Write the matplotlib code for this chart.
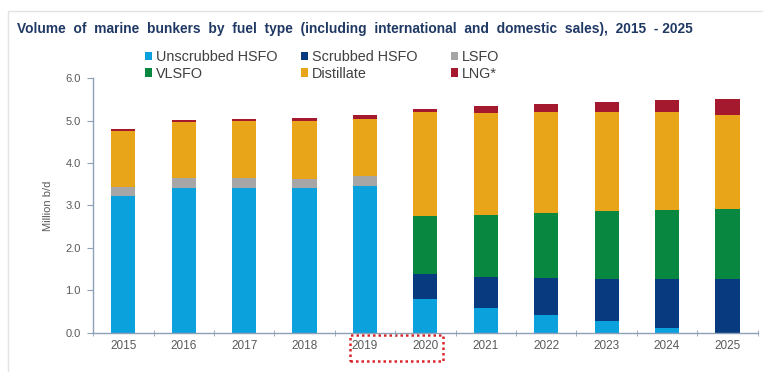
import matplotlib
matplotlib.use('Agg')
import matplotlib.pyplot as plt
import numpy as np
from matplotlib.patches import Rectangle

years = ['2015', '2016', '2017', '2018', '2019', '2020', '2021', '2022', '2023', '2024', '2025']

# million b/d
unscrubbed_hsfo = [3.21, 3.40, 3.42, 3.40, 3.46, 0.79, 0.59, 0.42, 0.27, 0.10, 0.00]
scrubbed_hsfo = [0.00, 0.00, 0.00, 0.00, 0.00, 0.58, 0.72, 0.86, 0.99, 1.16, 1.26]
lsfo = [0.23, 0.25, 0.23, 0.23, 0.23, 0.00, 0.00, 0.00, 0.00, 0.00, 0.00]
vlsfo = [0.00, 0.00, 0.00, 0.00, 0.00, 1.39, 1.47, 1.54, 1.60, 1.64, 1.66]
distillate = [1.32, 1.31, 1.34, 1.36, 1.35, 2.43, 2.39, 2.38, 2.34, 2.30, 2.21]
lng = [0.05, 0.05, 0.04, 0.07, 0.09, 0.09, 0.18, 0.20, 0.24, 0.28, 0.37]

names = ['Unscrubbed HSFO', 'Scrubbed HSFO', 'LSFO', 'VLSFO', 'Distillate', 'LNG*']
colors = ['#0BA1DD', '#073A7E', '#A6A6A6', '#07873F', '#E8A519', '#A5192F']

plt.rcParams['font.family'] = ['Liberation Sans', 'DejaVu Sans']

axis_col = '#8EA0B8'
text_col = '#595959'

fig = plt.figure(figsize=(7.63, 3.72), dpi=100)
ax = fig.add_axes([0.122, 0.106, 0.871, 0.684])

x = np.arange(len(years))
bottom = np.zeros(len(years))
series = [unscrubbed_hsfo, scrubbed_hsfo, lsfo, vlsfo, distillate, lng]
handles = []
for vals, name, col in zip(series, names, colors):
    b = ax.bar(x, vals, 0.4, bottom=bottom, color=col, label=name)
    handles.append(b)
    bottom = bottom + np.array(vals)

ax.set_xlim(-0.5, len(years) - 0.5)
ax.set_ylim(0, 6)
ax.set_yticks(np.arange(0, 6.1, 1.0))
ax.set_yticklabels(['%.1f' % v for v in np.arange(0, 6.1, 1.0)], fontsize=8, color=text_col)
ax.set_xticks(x)
ax.set_xticklabels(years, fontsize=8.5, color=text_col)
ax.set_xticks(np.arange(-0.5, len(years), 1.0), minor=True)
ax.tick_params(axis='x', which='major', length=0, pad=5)
ax.tick_params(axis='x', which='minor', length=4, direction='inout', color=axis_col)
ax.tick_params(axis='y', length=4, direction='out', color=axis_col, pad=5)
for s in ['top', 'right']:
    ax.spines[s].set_visible(False)
for s in ['left', 'bottom']:
    ax.spines[s].set_color(axis_col)
    ax.spines[s].set_linewidth(1.0)
ax.set_ylabel('Million b/d', fontsize=8, color=text_col, labelpad=9)

# red dotted box around 2019-2020
box = Rectangle((3.75, -0.112), 1.54, 0.103, transform=ax.get_xaxis_transform(),
                fill=False, edgecolor='#D9262A', linestyle=(0, (1, 1.2)), linewidth=1.8,
                clip_on=False)
ax.add_patch(box)

fig.text(0.022, 0.922, 'Volume  of  marine  bunkers  by  fuel  type  (including  international  and  domestic  sales),  2015  - 2025',
         fontsize=9.9, fontweight='bold', color='#1F3864', ha='left', va='center')

# legend: three columns of two rows, placed one by one
col_x = [145 / 763, 301 / 763, 451 / 763]
for i, cx in enumerate(col_x):
    leg = fig.legend(handles=[handles[i], handles[i + 3]], loc='upper left',
                     bbox_to_anchor=(cx, 0.866), ncol=1, frameon=False, fontsize=10.4,
                     handlelength=0.5, handleheight=0.5, handletextpad=0.25,
                     labelspacing=0.2, borderpad=0, borderaxespad=0,
                     labelcolor='#404040')

# light frame around the picture
fig.patches.append(Rectangle((0.011, -0.01), 1.0, 0.98, transform=fig.transFigure,
                             fill=False, edgecolor='#E3E3E3', linewidth=1.0))

fig.savefig('out.png', dpi=100)
